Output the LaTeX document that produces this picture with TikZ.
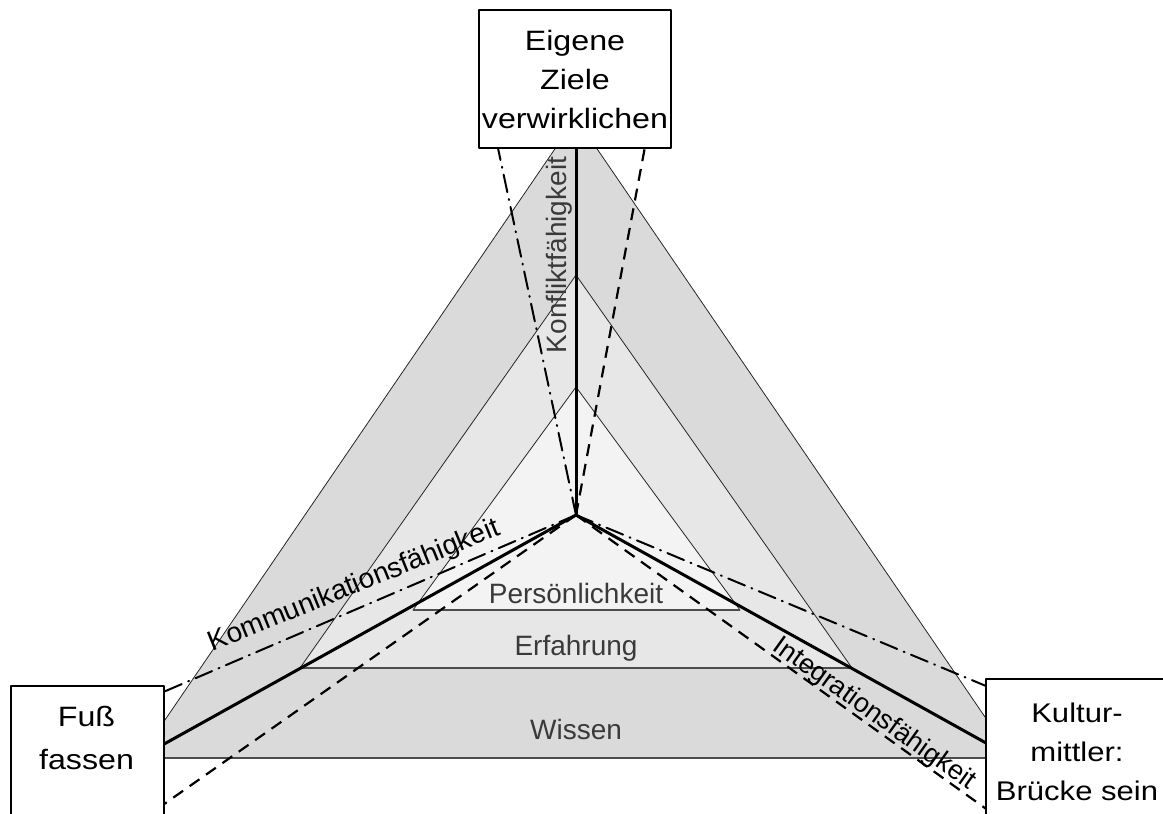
\documentclass[tikz,border=0pt]{standalone}
\usepackage{fontspec}
\setmainfont{Liberation Sans}
\newfontfamily\boxfont[FakeStretch=1.15]{Liberation Sans}
\definecolor{aussen}{HTML}{DADADA}
\definecolor{mitte}{HTML}{E7E7E7}
\definecolor{innen}{HTML}{F3F3F3}
\definecolor{ebenengrau}{HTML}{3A3A3A}
\begin{document}
\begin{tikzpicture}[x=1pt, y=-1pt, line join=round, line cap=round,
    font=\fontsize{28}{34}\selectfont,
    kante/.style={draw=black!85, line width=0.8pt},
    basis/.style={draw=black!70, line width=2pt, line cap=butt},
    speiche/.style={line width=3pt},
    strichpunkt/.style={line width=2pt, dash pattern=on 18pt off 7pt on 1pt off 7pt},
    gestrichelt/.style={line width=2.2pt, line cap=butt, dash pattern=on 12pt off 8pt},
    kasten/.style={draw, line width=1.5pt, fill=white},
    kastentext/.style={align=center, font=\boxfont\fontsize{28}{39}\selectfont},
    ebene/.style={text=ebenengrau, anchor=base},
    faehigkeit/.style={text=black, anchor=base}]
  \useasboundingbox (0,0) rectangle (1163,814);
  % Dreiecke
  \coordinate (Z) at (576,515);
  \coordinate (oben) at (576,118);
  \coordinate (links) at (139,758);
  \coordinate (rechts) at (1013,758);
  \coordinate (m1) at (576,275);
  \coordinate (m2) at (300,668);
  \coordinate (m3) at (852,668);
  \coordinate (i1) at (576,387);
  \coordinate (i2) at (413,610);
  \coordinate (i3) at (740,610);
  \filldraw[kante, fill=aussen] (oben) -- (links) -- (rechts) -- cycle;
  \filldraw[kante, fill=mitte] (m1) -- (m2) -- (m3) -- cycle;
  \filldraw[kante, fill=innen] (i1) -- (i2) -- (i3) -- cycle;
  \draw[basis] (links) -- (rechts);
  \draw[basis] (m2) -- (m3);
  \draw[basis] (i2) -- (i3);
  \node[ebene] (wissen) at (576,739) {Wissen};
  \node[ebene] (erfahrung) at (576,655) {Erfahrung};
  \node[ebene] (persoenlichkeit) at (576,603) {Persönlichkeit};
  % Speichen
  \draw[speiche] (Z) -- (oben);
  \draw[speiche] (Z) -- (links);
  \draw[speiche] (Z) -- (rechts);
  \coordinate (oben-sp) at (492,120);
  \coordinate (oben-gs) at (650,120);
  \coordinate (links-sp) at (140,702);
  \coordinate (links-gs) at (140,821);
  \coordinate (rechts-sp) at (1010,696);
  \coordinate (rechts-gs) at (1010,826);
  \draw[strichpunkt] (Z) -- (oben-sp);
  \draw[gestrichelt] (Z) -- (oben-gs);
  \draw[strichpunkt] (Z) -- (links-sp);
  \draw[gestrichelt] (Z) -- (links-gs);
  \draw[strichpunkt] (Z) -- (rechts-sp);
  \draw[gestrichelt] (Z) -- (rechts-gs);
  \node[ebene, rotate=90] (konflikt) at (566,255) {Konfliktfähigkeit};
  \node[faehigkeit, rotate=22] (kommunikation) at (357,593) {Kommunikationsfähigkeit};
  \node[faehigkeit, rotate=-35.6, font=\fontsize{27}{32}\selectfont] (integration) at (870,720) {Integrationsfähigkeit};
  % Kaesten
  \node[kasten, kastentext, minimum width=192pt, minimum height=138pt, inner sep=0pt] (ziele) at (575,79) {Eigene\\Ziele\\verwirklichen};
  \node[kasten, anchor=north west, minimum width=153pt, minimum height=145pt] (fuss) at (10,685) {};
  \node[kastentext, font=\boxfont\fontsize{28}{43}\selectfont] (fusstext) at (86.5,738) {Fuß\\fassen};
  \node[kasten, anchor=north west, minimum width=195pt, minimum height=152pt] (kultur) at (985,678) {};
  \node[kastentext, font=\boxfont\fontsize{27}{39}\selectfont] (kulturtext) at (1077,752) {Kultur-\\mittler:\\Brücke sein};
\end{tikzpicture}
\end{document}
